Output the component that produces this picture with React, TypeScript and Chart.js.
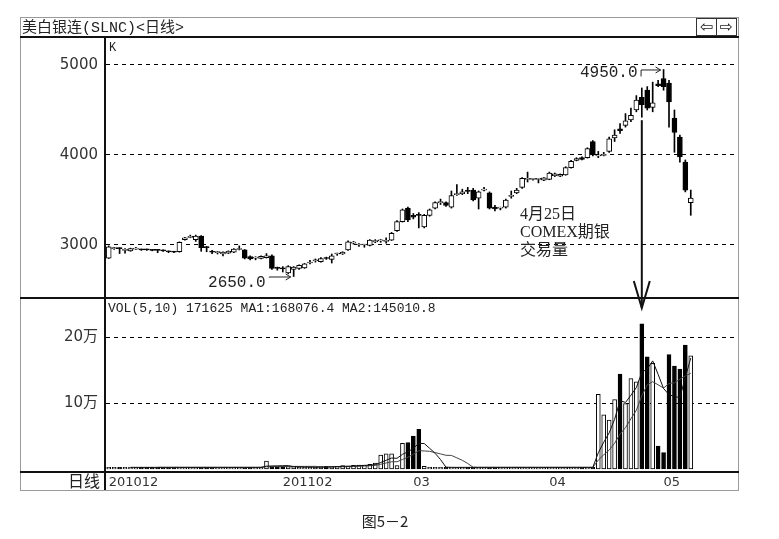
import { useEffect, useRef } from 'react';
import { Chart, registerables } from 'chart.js';

Chart.register(...registerables);

// ---- Daily candles (美白银连 SLNC) ----
const OPEN = [
  2855, 2960, 2965, 2940, 2935, 2955, 2950, 2950, 2945, 2945,
  2940, 2930, 2925, 2925, 3060, 3085, 3060, 3100, 2980, 2925,
  2915, 2900, 2910, 2920, 2950, 2945, 2870, 2855, 2850, 2860,
  2880, 2745, 2740, 2690, 2730, 2740, 2745, 2800, 2825, 2815,
  2855, 2840, 2900, 2900, 2945, 3020, 3000, 3000, 2995, 3035,
  3045, 3040, 3055, 3160, 3260, 3410, 3330, 3340, 3200, 3330,
  3410, 3470, 3470, 3420, 3560, 3570, 3600, 3610, 3520, 3610,
  3580, 3420, 3410, 3420, 3540, 3580, 3640, 3730, 3730, 3730,
  3720, 3730, 3770, 3765, 3780, 3860, 3940, 3970, 3970, 4150,
  3990, 3995, 4040, 4190, 4290, 4330, 4390, 4500, 4640, 4720,
  4530, 4790, 4850, 4800, 4410, 4200, 3920, 3470,
];
const HIGH = [
  2990, 2975, 2970, 2960, 2965, 2975, 2955, 2955, 2950, 2950,
  2945, 2935, 2930, 3035, 3085, 3110, 3110, 3105, 2985, 2940,
  2930, 2925, 2935, 2960, 2990, 2950, 2880, 2870, 2880, 2905,
  2890, 2755, 2760, 2770, 2760, 2780, 2795, 2830, 2845, 2860,
  2865, 2900, 2910, 2925, 3045, 3040, 3015, 3005, 3060, 3060,
  3060, 3080, 3140, 3270, 3400, 3420, 3350, 3360, 3340, 3400,
  3480, 3510, 3480, 3600, 3670, 3620, 3640, 3630, 3600, 3640,
  3590, 3440, 3420, 3510, 3600, 3630, 3750, 3810, 3740, 3740,
  3750, 3810, 3800, 3790, 3870, 3940, 3970, 3980, 4080, 4160,
  4040, 4030, 4200, 4280, 4350, 4460, 4520, 4660, 4745, 4760,
  4810, 4830, 4950, 4830, 4500, 4220, 3945, 3610,
];
const LOW = [
  2850, 2950, 2905, 2910, 2930, 2950, 2940, 2940, 2935, 2915,
  2930, 2915, 2915, 2920, 3055, 3080, 3040, 2930, 2925, 2905,
  2900, 2880, 2905, 2915, 2945, 2845, 2835, 2835, 2845, 2855,
  2730, 2720, 2700, 2680, 2650, 2730, 2740, 2790, 2810, 2810,
  2840, 2800, 2885, 2895, 2940, 3010, 2985, 2975, 2990, 3025,
  3030, 3020, 3050, 3150, 3255, 3260, 3290, 3190, 3190, 3320,
  3400, 3450, 3430, 3410, 3550, 3560, 3570, 3490, 3400, 3600,
  3400, 3380, 3390, 3410, 3520, 3570, 3630, 3700, 3720, 3690,
  3715, 3725, 3760, 3760, 3775, 3855, 3935, 3945, 3965, 3990,
  3970, 3990, 4030, 4150, 4240, 4310, 4370, 4480, 4420, 4500,
  4480, 4760, 4720, 4310, 4030, 3920, 3590, 3330,
];
const CLOSE = [
  2980, 2965, 2960, 2945, 2960, 2965, 2945, 2945, 2940, 2940,
  2935, 2925, 2920, 3030, 3080, 3090, 3100, 2970, 2970, 2920,
  2915, 2920, 2930, 2955, 2960, 2855, 2845, 2855, 2875, 2880,
  2740, 2740, 2735, 2760, 2755, 2775, 2790, 2810, 2830, 2850,
  2850, 2880, 2900, 2920, 3035, 3025, 3000, 3000, 3055, 3050,
  3045, 3040, 3130, 3260, 3390, 3280, 3310, 3330, 3330, 3390,
  3470, 3480, 3440, 3550, 3570, 3590, 3595, 3500, 3590, 3610,
  3410, 3400, 3410, 3500, 3550, 3610, 3740, 3740, 3735, 3730,
  3745, 3800, 3790, 3785, 3860, 3930, 3960, 3950, 4070, 4000,
  3995, 4000, 4180, 4220, 4270, 4380, 4440, 4610, 4560, 4520,
  4580, 4770, 4760, 4590, 4250, 3980, 3610, 3520,
];
const VOLUME = [
  2500, 2500, 2500, 2500, 2500, 2500, 2500, 2500, 2500, 2500,
  2500, 2500, 2500, 2500, 2500, 2500, 2500, 2500, 2500, 2500,
  2500, 2500, 2500, 2500, 2500, 2500, 2500, 2500, 2500, 12000,
  3500, 3500, 3500, 3500, 3500, 2500, 2500, 2500, 3000, 3500,
  4000, 3500, 4000, 5000, 4500, 5500, 6000, 6000, 7000, 9000,
  21000, 23000, 23000, 5000, 39000, 40000, 50000, 60000, 4000, 2500,
  2500, 2500, 2500, 2500, 2500, 2500, 2500, 2500, 2500, 2500,
  2500, 2500, 2500, 2500, 2500, 2500, 2500, 2500, 2500, 2500,
  2500, 2500, 2500, 2500, 2500, 2500, 2500, 2500, 2500, 2500,
  113000, 82000, 74000, 105000, 144000, 99000, 137000, 132000, 220000, 170000,
  160000, 34726, 25000, 173500, 156000, 151500, 187757, 171625,
];

const SLOT_COUNT = 116;
const PRICE_TICKS = [3000, 4000, 5000];
const PRICE_TICK_LABELS = ['3000', '4000', '5000'];
const VOL_TICKS = [100000, 200000];
const VOL_TICK_LABELS = ['10万', '20万'];
const DATE_TICK_IDX = [0, 32, 56, 81, 102];
const DATE_TICK_LABELS = ['201012', '201102', '03', '04', '05'];
const HIGH_MARK = { index: 102, value: 4950, label: '4950.0' };
const LOW_MARK = { index: 34, value: 2650, label: '2650.0' };
const EVENT_INDEX = 98;
const EVENT_TEXT = ['4月25日', 'COMEX期银', '交易量'];
const TITLE = '美白银连(SLNC)<日线>';
const CAPTION = '图5－2';

const PRICE_MIN = 2411.1;
const PRICE_MAX = 5300;
const VOL_MIN = -4545;
const VOL_MAX = 259091;

const MONO = "'Liberation Mono', 'Noto Sans CJK SC', monospace";
const SANS = "'DejaVu Sans', 'Noto Sans CJK SC', sans-serif";
const CJK = "'Noto Sans CJK SC', 'DejaVu Sans', sans-serif";
const SERIF = "'Liberation Serif', 'Noto Sans CJK SC', serif";

function movingAverage(values: number[], n: number) {
  return values.map((_, i) => {
    if (i < n - 1) return null;
    let s = 0;
    for (let k = i - n + 1; k <= i; k++) s += values[k];
    return s / n;
  });
}

function arrowRight(ctx: any, x: number, y: number) {
  ctx.beginPath();
  ctx.moveTo(x - 5, y - 3);
  ctx.lineTo(x, y);
  ctx.lineTo(x - 5, y + 3);
  ctx.stroke();
}

const decorPlugin = {
  id: 'decor',
  beforeDraw(chart: any) {
    const { ctx, width, height } = chart;
    ctx.save();
    ctx.fillStyle = '#fff';
    ctx.fillRect(0, 0, width, height);
    ctx.restore();
  },
  afterDraw(chart: any) {
    const { ctx, chartArea: ca } = chart;
    const xs = chart.scales.x;
    const ys = chart.scales.y;
    const yv = chart.scales.yv;
    const L = 20;
    const R = ca.right + 1;
    const T = 17;
    const B = ca.bottom + 18;
    ctx.save();

    // outer frame
    ctx.strokeStyle = '#9a9a9a';
    ctx.lineWidth = 1;
    ctx.strokeRect(L + 0.5, T + 0.5, R - L, B - T);

    // dividers
    ctx.fillStyle = '#111';
    ctx.fillRect(L, ca.top - 2, R - L + 1, 2);
    ctx.fillRect(L, ys.bottom - 1, R - L + 1, 2);
    ctx.fillRect(L, ca.bottom - 1, R - L + 1, 2);
    ctx.fillRect(ca.left - 2, ca.top - 2, 2, B - ca.top + 2);

    // title
    ctx.fillStyle = '#222';
    ctx.textBaseline = 'middle';
    ctx.textAlign = 'left';
    ctx.font = `15px ${MONO}`;
    ctx.fillText(TITLE, L + 2, T + 11);

    // buttons
    ctx.strokeStyle = '#333';
    ctx.lineWidth = 1;
    const bx = R - 42;
    ctx.strokeRect(bx + 0.5, T + 1.5, 20, 17);
    ctx.strokeRect(bx + 20.5, T + 1.5, 20, 17);
    ctx.font = "16px 'DejaVu Sans'";
    ctx.textAlign = 'center';
    ctx.fillText('⇦', bx + 10.5, T + 10.5);
    ctx.fillText('⇨', bx + 30.5, T + 10.5);

    // panel labels
    ctx.textAlign = 'left';
    ctx.font = `12px ${MONO}`;
    ctx.fillText('K', ca.left + 3, ca.top + 10);
    const n = VOLUME.length;
    const ma1 = VOLUME.slice(n - 5).reduce((a, b) => a + b, 0) / 5;
    const ma2 = VOLUME.slice(n - 10).reduce((a, b) => a + b, 0) / 10;
    ctx.font = `13px ${MONO}`;
    ctx.fillText(`VOL(5,10) ${VOLUME[n - 1]} MA1:${ma1.toFixed(1)} MA2:${ma2.toFixed(1)}`, ca.left + 2, yv.top + 11);
    ctx.textAlign = 'right';
    ctx.font = `16px ${CJK}`;
    ctx.fillText('日线', ca.left - 6, ca.bottom + 9);

    // high marker
    ctx.strokeStyle = '#222';
    ctx.lineWidth = 1;
    ctx.font = `16px ${MONO}`;
    const xh = xs.getPixelForValue(HIGH_MARK.index);
    const yh = ys.getPixelForValue(HIGH_MARK.value);
    const th = xh - 26;
    ctx.textAlign = 'right';
    ctx.fillText(HIGH_MARK.label, th, yh + 3);
    ctx.beginPath();
    ctx.moveTo(th + 3.5, yh + 7);
    ctx.lineTo(th + 3.5, yh + 0.5);
    ctx.lineTo(xh - 3, yh + 0.5);
    ctx.stroke();
    arrowRight(ctx, xh - 3, yh + 0.5);

    // low marker
    const xl = xs.getPixelForValue(LOW_MARK.index);
    const yl = ys.getPixelForValue(LOW_MARK.value);
    const tl = xl - 28;
    ctx.fillText(LOW_MARK.label, tl, yl + 6);
    ctx.beginPath();
    ctx.moveTo(tl + 3.5, yl + 1);
    ctx.lineTo(tl + 3.5, yl + 0.5);
    ctx.lineTo(xl - 3, yl + 0.5);
    ctx.stroke();
    arrowRight(ctx, xl - 3, yl + 0.5);

    // event annotation
    ctx.textAlign = 'left';
    ctx.font = `16px ${SERIF}`;
    EVENT_TEXT.forEach((t, i) => ctx.fillText(t, 520, 215 + i * 18));
    const xe = xs.getPixelForValue(EVENT_INDEX);
    const ye0 = ys.getPixelForValue(LOW[EVENT_INDEX]) + 3;
    const yt = yv.top + 10;
    ctx.strokeStyle = '#111';
    ctx.lineWidth = 2;
    ctx.beginPath();
    ctx.moveTo(xe, ye0);
    ctx.lineTo(xe, yt);
    ctx.stroke();
    ctx.beginPath();
    ctx.moveTo(xe - 8, yt - 27);
    ctx.lineTo(xe, yt);
    ctx.lineTo(xe + 8, yt - 27);
    ctx.stroke();

    // caption
    ctx.fillStyle = '#222';
    ctx.textAlign = 'center';
    ctx.font = `15px ${CJK}`;
    ctx.fillText(CAPTION, 385, 521);
    ctx.restore();
  },
};

export default function App() {
  const ref = useRef<HTMLCanvasElement>(null);
  useEffect(() => {
    document.body.style.margin = '0';
    const canvas = ref.current;
    if (!canvas) return;
    const labels = Array.from({ length: SLOT_COUNT }, (_, i) => String(i));
    const bodyColors = CLOSE.map((c, i) => (c >= OPEN[i] ? '#ffffff' : '#000000'));
    const chart = new Chart(canvas, {
      type: 'bar',
      data: {
        labels,
        datasets: [
          {
            type: 'line',
            label: 'MA1',
            data: movingAverage(VOLUME, 5),
            yAxisID: 'yv',
            borderColor: '#111',
            borderWidth: 1,
            pointRadius: 0,
            order: 0,
          } as any,
          {
            type: 'line',
            label: 'MA2',
            data: movingAverage(VOLUME, 10),
            yAxisID: 'yv',
            borderColor: '#444',
            borderWidth: 1,
            pointRadius: 0,
            order: 0,
          } as any,
          {
            type: 'bar',
            label: 'body',
            data: OPEN.map((o, i) => [o, CLOSE[i]]),
            yAxisID: 'y',
            backgroundColor: bodyColors,
            borderColor: '#000',
            borderWidth: 1,
            borderSkipped: false,
            barThickness: 5,
            minBarLength: 1,
            grouped: false,
            order: 1,
          } as any,
          {
            type: 'bar',
            label: 'wick',
            data: LOW.map((l, i) => [l, HIGH[i]]),
            yAxisID: 'y',
            backgroundColor: '#000',
            borderWidth: 0,
            barThickness: 1,
            grouped: false,
            order: 2,
          } as any,
          {
            type: 'bar',
            label: 'VOL',
            data: VOLUME,
            yAxisID: 'yv',
            backgroundColor: bodyColors,
            borderColor: '#000',
            borderWidth: 1,
            borderSkipped: false,
            barThickness: 4,
            grouped: false,
            order: 1,
          } as any,
        ],
      },
      options: {
        responsive: false,
        devicePixelRatio: 1,
        animation: false,
        events: [],
        layout: { autoPadding: false, padding: { left: 20, right: 42, top: 38, bottom: 49 } },
        plugins: { legend: { display: false }, tooltip: { enabled: false } },
        scales: {
          x: {
            type: 'category',
            offset: true,
            grid: { display: false, drawTicks: false },
            border: { display: false },
            ticks: {
              autoSkip: false,
              maxRotation: 0,
              minRotation: 0,
              align: 'start',
              padding: 3,
              color: '#333',
              font: { family: SANS, size: 13 },
              callback: (v: any) => {
                const k = DATE_TICK_IDX.indexOf(Number(v));
                return k >= 0 ? DATE_TICK_LABELS[k] : '';
              },
            },
            afterBuildTicks: (s: any) => {
              s.ticks = DATE_TICK_IDX.map((v) => ({ value: v }));
            },
            afterFit: (s: any) => {
              s.height = 18;
            },
          },
          y: {
            type: 'linear',
            position: 'left',
            stack: 'panels',
            stackWeight: 260,
            weight: 2,
            min: PRICE_MIN,
            max: PRICE_MAX,
            grid: { color: '#000', lineWidth: 1, drawTicks: false },
            border: { display: false, dash: [4, 4] },
            ticks: {
              padding: 8,
              color: '#333',
              font: { family: SANS, size: 15 },
              callback: (v: any) => {
                const k = PRICE_TICKS.indexOf(Number(v));
                return k >= 0 ? PRICE_TICK_LABELS[k] : '';
              },
            },
            afterBuildTicks: (s: any) => {
              s.ticks = PRICE_TICKS.map((v) => ({ value: v }));
            },
            afterFit: (s: any) => {
              s.width = 86;
            },
          },
          yv: {
            type: 'linear',
            position: 'left',
            stack: 'panels',
            stackWeight: 174,
            weight: 1,
            min: VOL_MIN,
            max: VOL_MAX,
            grid: { color: '#000', lineWidth: 1, drawTicks: false },
            border: { display: false, dash: [4, 4] },
            ticks: {
              padding: 8,
              color: '#333',
              font: { family: SANS, size: 15 },
              callback: (v: any) => {
                const k = VOL_TICKS.indexOf(Number(v));
                return k >= 0 ? VOL_TICK_LABELS[k] : '';
              },
            },
            afterBuildTicks: (s: any) => {
              s.ticks = VOL_TICKS.map((v) => ({ value: v }));
            },
            afterFit: (s: any) => {
              s.width = 86;
            },
          },
        },
      } as any,
      plugins: [decorPlugin],
    });
    return () => chart.destroy();
  }, []);
  return (
    <div style={{ position: 'absolute', left: 0, top: 0, width: 779, height: 539, background: '#fff' }}>
      <canvas ref={ref} width={779} height={539} style={{ display: 'block', width: 779, height: 539 }} />
    </div>
  );
}
